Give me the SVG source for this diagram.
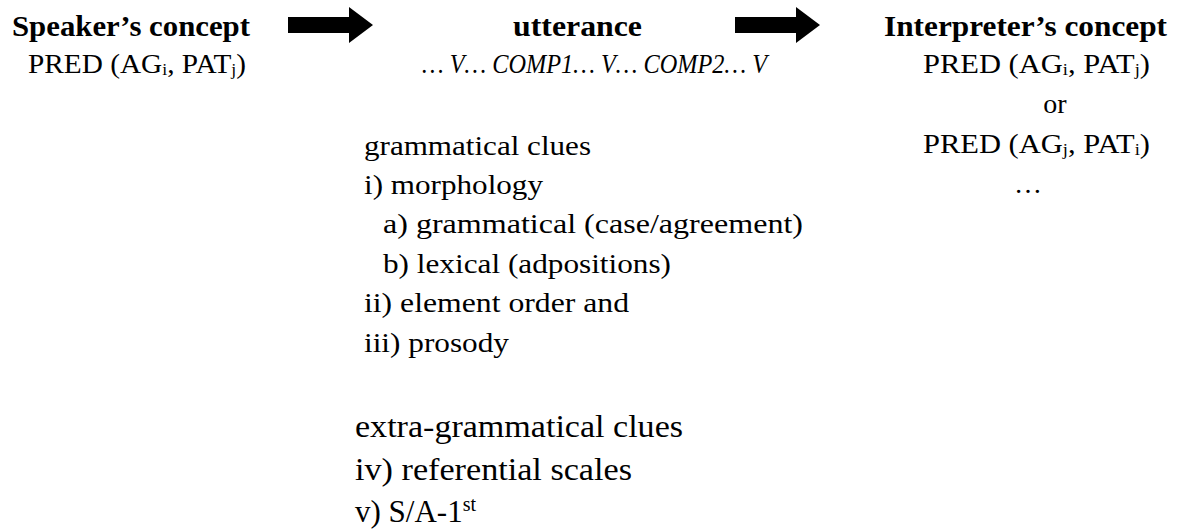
<svg xmlns="http://www.w3.org/2000/svg" width="1182" height="531" viewBox="0 0 1182 531">
  <style>
    text { font-family: "Liberation Serif", "DejaVu Serif", serif; fill: #000; }
    .head { font-weight: bold; font-size: 30px; }
    .body { font-size: 28px; }
    .big { font-size: 31px; }
    .it { font-style: italic; }
    .sub { font-size: 17px; }
  </style>
  <defs>
    <!-- block arrow: shaft then triangular head, drawn from the origin -->
    <path id="blockArrow" d="M0 -8 H61 V-18 L85 0 L61 18 V8 H0 Z" fill="#000"/>
  </defs>
  <rect width="1182" height="531" fill="#fff"/>

  <g id="connectors">
    <use href="#blockArrow" x="288" y="25"/>
    <use href="#blockArrow" x="735" y="25"/>
  </g>

  <g id="speaker">
    <text class="head" x="12" y="36" textLength="238" lengthAdjust="spacingAndGlyphs">Speaker’s concept</text>
    <text class="body" x="28" y="73" textLength="218" lengthAdjust="spacingAndGlyphs">PRED (AG<tspan class="sub" dy="2">i</tspan><tspan dy="-2">, PAT</tspan><tspan class="sub" dy="2">j</tspan><tspan dy="-2">)</tspan></text>
  </g>

  <g id="utterance">
    <text class="head" x="513" y="36" textLength="129" lengthAdjust="spacingAndGlyphs">utterance</text>
    <text class="body it" x="422" y="73" textLength="345" lengthAdjust="spacingAndGlyphs">… V… COMP1… V… COMP2… V</text>
  </g>

  <g id="interpreter">
    <text class="head" x="884" y="36" textLength="283" lengthAdjust="spacingAndGlyphs">Interpreter’s concept</text>
    <text class="body" x="923" y="73" textLength="227" lengthAdjust="spacingAndGlyphs">PRED (AG<tspan class="sub" dy="2">i</tspan><tspan dy="-2">, PAT</tspan><tspan class="sub" dy="2">j</tspan><tspan dy="-2">)</tspan></text>
    <text class="body" x="1055" y="113" text-anchor="middle">or</text>
    <text class="body" x="923" y="153" textLength="227" lengthAdjust="spacingAndGlyphs">PRED (AG<tspan class="sub" dy="2">j</tspan><tspan dy="-2">, PAT</tspan><tspan class="sub" dy="2">i</tspan><tspan dy="-2">)</tspan></text>
    <text class="body" x="1028" y="193" text-anchor="middle">…</text>
  </g>

  <g id="grammatical-clues">
    <text class="body" x="364" y="155" textLength="227" lengthAdjust="spacingAndGlyphs">grammatical clues</text>
    <text class="body" x="364" y="194" textLength="179" lengthAdjust="spacingAndGlyphs">i) morphology</text>
    <text class="body" x="383" y="233" textLength="420" lengthAdjust="spacingAndGlyphs">a) grammatical (case/agreement)</text>
    <text class="body" x="383" y="273" textLength="288" lengthAdjust="spacingAndGlyphs">b) lexical (adpositions)</text>
    <text class="body" x="364" y="312" textLength="265" lengthAdjust="spacingAndGlyphs">ii) element order and</text>
    <text class="body" x="364" y="352" textLength="145" lengthAdjust="spacingAndGlyphs">iii) prosody</text>
  </g>

  <g id="extra-grammatical-clues">
    <text class="big" x="355" y="437" textLength="328" lengthAdjust="spacingAndGlyphs">extra-grammatical clues</text>
    <text class="big" x="355" y="480" textLength="277" lengthAdjust="spacingAndGlyphs">iv) referential scales</text>
    <text class="big" x="355" y="522">v) S/A-1<tspan font-size="20" dy="-11">st</tspan></text>
  </g>
</svg>
